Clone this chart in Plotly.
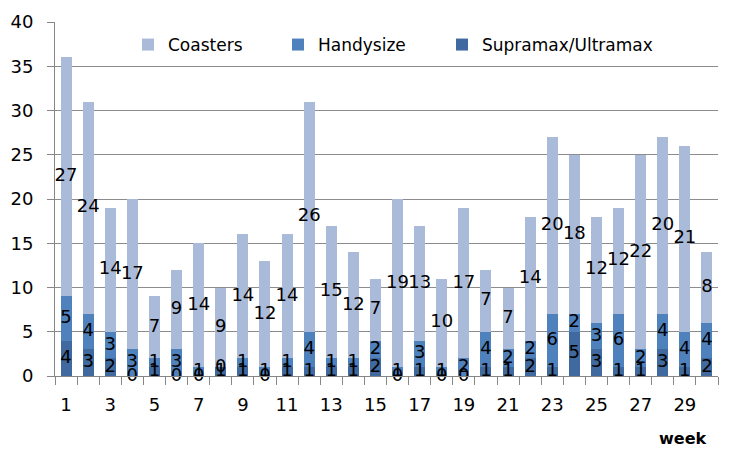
import plotly.graph_objects as go

weeks = list(range(1, 31))
supramax = [4, 3, 2, 0, 1, 0, 0, 1, 1, 0, 1, 1, 1, 1, 2, 0, 1, 0, 0, 1, 1, 2, 1, 5, 3, 1, 1, 3, 1, 2]
handysize = [5, 4, 3, 3, 1, 3, 1, 0, 1, 1, 1, 4, 1, 1, 2, 1, 3, 1, 2, 4, 2, 2, 6, 2, 3, 6, 2, 4, 4, 4]
coasters = [27, 24, 14, 17, 7, 9, 14, 9, 14, 12, 14, 26, 15, 12, 7, 19, 13, 10, 17, 7, 7, 14, 20, 18, 12, 12, 22, 20, 21, 8]
tick_labels = [str(w) for w in range(1, 31, 2)]

series = [
    ("Supramax/Ultramax", supramax, "#3F699F", "legend3"),
    ("Handysize", handysize, "#4F81BD", "legend2"),
    ("Coasters", coasters, "#AABBDA", "legend"),
]

FONT = "DejaVu Sans"
# page body has an 8px margin; figure is sized so the plot area lands where the reference has it
OFF = 8
W, H = 742 - OFF, 470 - OFF
PL, PR, PT, PB = 55, 718, 22, 376          # plot area in page pixels
L, R, T, B = PL - OFF, W + OFF - PR, PT - OFF, H + OFF - PB
pw, ph = PR - PL, PB - PT


def px(xp):
    return (xp - PL) / pw


def py(yp):
    return (PB - yp) / ph


fig = go.Figure()
base = [0] * len(weeks)
label_traces = []
for name, vals, col, leg in series:
    fig.add_trace(go.Bar(x=weeks, y=vals, name=name, marker=dict(color=col, line=dict(width=0)),
                         hoverinfo="y+name", legend=leg))
    mids = [b + v / 2 for b, v in zip(base, vals)]
    label_traces.append(go.Scatter(x=weeks, y=mids, mode="text", text=[str(v) for v in vals],
                                   textfont=dict(family=FONT, size=18, color="black"),
                                   showlegend=False, hoverinfo="skip", cliponaxis=False))
    base = [b + v for b, v in zip(base, vals)]
for t in label_traces:
    fig.add_trace(t)


def leg(sym_center):
    return dict(orientation="h", x=px(sym_center - 17), xanchor="left", y=py(45),
                yanchor="middle", bgcolor="rgba(0,0,0,0)", font=dict(family=FONT, size=17),
                itemwidth=30)


fig.update_layout(
    width=W, height=H,
    margin=dict(l=L, r=R, t=T, b=B, autoexpand=False),
    paper_bgcolor="white", plot_bgcolor="white",
    barmode="stack", bargap=0.5,
    font=dict(family=FONT, size=18, color="black"),
    legend=leg(145), legend2=leg(295), legend3=leg(459),
    xaxis=dict(range=[0.5, 30.5], tickmode="array", tickvals=list(range(1, 31, 2)),
               ticktext=tick_labels, ticks="", showgrid=False, showline=True,
               linecolor="#868686", linewidth=1, tickfont=dict(size=18), ticklabelstandoff=12,
               minor=dict(ticks="outside", tick0=0.5, dtick=1, ticklen=8, tickcolor="#868686",
                          showgrid=False),
               zeroline=False, fixedrange=True, automargin=False),
    yaxis=dict(range=[0, 40], dtick=5, showgrid=True, gridcolor="#8C8C8C", gridwidth=1,
               showline=True, linecolor="#868686", ticks="outside", ticklen=7,
               tickcolor="#868686", tickfont=dict(size=18), zeroline=False, fixedrange=True,
               ticklabelstandoff=10, automargin=False),
    annotations=[dict(text="<b>week</b>", x=px(682), y=py(438),
                      xref="paper", yref="paper", xanchor="center", yanchor="middle",
                      showarrow=False, font=dict(family=FONT, size=16, color="black"))],
)

fig.write_html("out.html")
